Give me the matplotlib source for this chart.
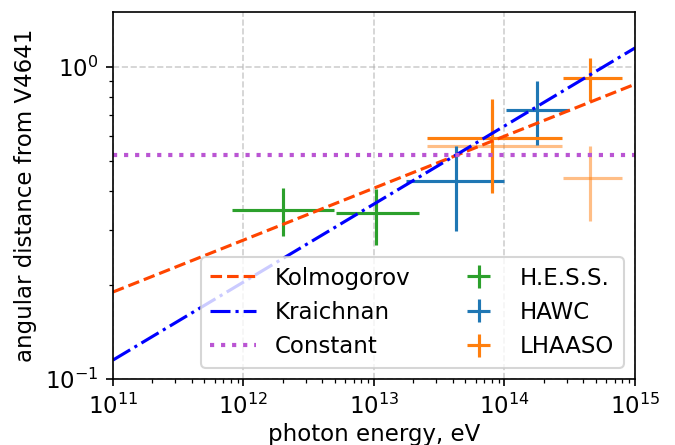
import numpy as np
import matplotlib
import matplotlib.pyplot as plt

matplotlib.use('agg')

# Model curves (power laws, straight in log-log), given at the plot edges
model_energy = [1e11, 1e15]
kolmogorov = [0.19, 0.88]
kraichnan = [0.115, 1.15]
constant = [0.522, 0.522]

# Measurements: centre, lower and upper edges in energy and angle
hess_e = [2.0e12, 1.04e13]
hess_e_lo = [8.2e11, 5.15e12]
hess_e_hi = [4.9e12, 2.2e13]
hess_th = [0.349, 0.340]
hess_th_lo = [0.288, 0.268]
hess_th_hi = [0.409, 0.405]

hawc_e = [4.24e13, 1.77e14]
hawc_e_lo = [1.77e13, 1.03e14]
hawc_e_hi = [1.0e14, 3.1e14]
hawc_th = [0.430, 0.726]
hawc_th_lo = [0.299, 0.561]
hawc_th_hi = [0.560, 0.902]

lhaaso_e = [7.96e13, 4.49e14]
lhaaso_e_lo = [2.54e13, 2.81e14]
lhaaso_e_hi = [2.76e14, 8.0e14]
lhaaso_th = [0.593, 0.922]
lhaaso_th_lo = [0.394, 0.776]
lhaaso_th_hi = [0.788, 1.069]

# Alternative LHAASO values, shown faded
lhaaso_alt_th = [0.560, 0.439]
lhaaso_alt_th_lo = [0.40, 0.321]
lhaaso_alt_th_hi = [0.75, 0.558]


def _err(c, lo, hi):
    c, lo, hi = np.array(c), np.array(lo), np.array(hi)
    return [c - lo, hi - c]


plt.rcParams['font.size'] = 11
fig = plt.figure(figsize=(4.5, 2.967), dpi=150)
ax = fig.add_axes([0.1674, 0.1483, 0.7733, 0.8247])

ax.errorbar(lhaaso_e, lhaaso_alt_th, xerr=_err(lhaaso_e, lhaaso_e_lo, lhaaso_e_hi),
            yerr=_err(lhaaso_alt_th, lhaaso_alt_th_lo, lhaaso_alt_th_hi),
            fmt='none', color='C1', alpha=0.5)
ax.errorbar(hess_e, hess_th, xerr=_err(hess_e, hess_e_lo, hess_e_hi),
            yerr=_err(hess_th, hess_th_lo, hess_th_hi),
            fmt='none', color='C2', label='H.E.S.S.')
ax.errorbar(hawc_e, hawc_th, xerr=_err(hawc_e, hawc_e_lo, hawc_e_hi),
            yerr=_err(hawc_th, hawc_th_lo, hawc_th_hi),
            fmt='none', color='C0', label='HAWC')
ax.errorbar(lhaaso_e, lhaaso_th, xerr=_err(lhaaso_e, lhaaso_e_lo, lhaaso_e_hi),
            yerr=_err(lhaaso_th, lhaaso_th_lo, lhaaso_th_hi),
            fmt='none', color='C1', label='LHAASO')

ax.plot(model_energy, kolmogorov, '--', color='orangered', label='Kolmogorov')
ax.plot(model_energy, kraichnan, '-.', color='blue', label='Kraichnan')
ax.plot(model_energy, constant, ':', color='mediumorchid', lw=2, label='Constant')

ax.set_xscale('log')
ax.set_yscale('log')
ax.set_xlim(1e11, 1e15)
ax.set_ylim(0.1, 1.5)
ax.yaxis.set_minor_formatter(matplotlib.ticker.NullFormatter())
ax.grid(True, which='major', ls='--', color='#b0b0b0', alpha=0.6)
ax.set_xlabel('photon energy, eV', labelpad=2)
ax.set_ylabel('angular distance from V4641')
ax.legend(ncol=2, loc='lower right')

plt.savefig('out.png')
